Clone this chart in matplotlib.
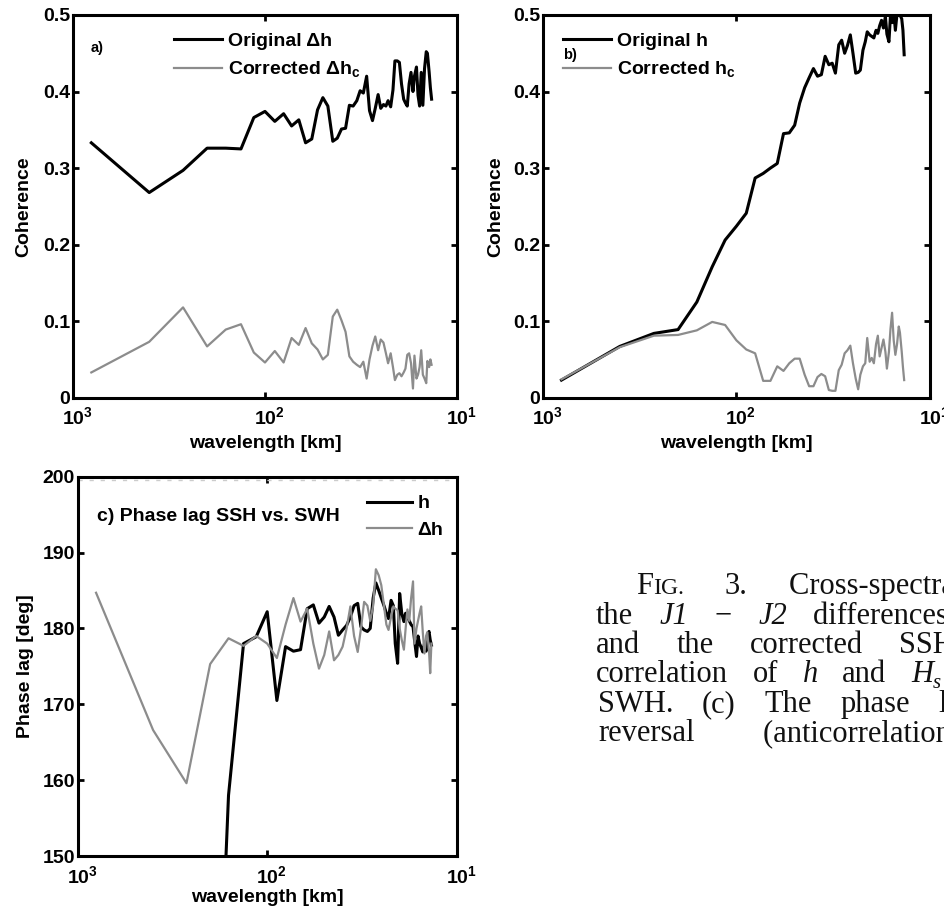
import numpy as np
import matplotlib
matplotlib.use('Agg')
import matplotlib.pyplot as plt
import matplotlib.transforms as mtransforms
from matplotlib.ticker import FixedLocator, FixedFormatter, NullLocator

plt.rcParams['font.family'] = ['Liberation Sans', 'DejaVu Sans']
plt.rcParams['font.weight'] = 'bold'
plt.rcParams['mathtext.fontset'] = 'custom'
plt.rcParams['mathtext.rm'] = 'Liberation Sans:bold'
plt.rcParams['mathtext.bf'] = 'Liberation Sans:bold'

# wavelength of each spectral estimate [km]
wavelength = [800, 400, 266.7, 200, 160, 133.3, 114.3, 100, 88.9, 80,
              72.7, 66.7, 61.5, 57.1, 53.3, 50, 47.1, 44.4, 42.1, 40,
              38.1, 36.4, 34.8, 33.3, 32, 30.8, 29.6, 28.6, 27.6, 26.7,
              25.8, 25, 24.2, 23.5, 22.9, 22.2, 21.6, 21.1, 20.5, 20,
              19.5, 19, 18.6, 18.2, 17.8, 17.4, 17, 16.7, 16.3, 16,
              15.7, 15.4, 15.1, 14.8, 14.5, 14.3, 14, 13.8, 13.6]

# a) coherence of J1-J2 differences with SWH
coh_dh = [.333, .268, .297, .326, .326, .325, .366, .374, .361, .371,
          .355, .363, .333, .338, .376, .392, .381, .335, .339, .351,
          .352, .382, .381, .388, .401, .398, .420, .375, .362, .378,
          .396, .378, .383, .381, .388, .380, .402, .440, .440, .438,
          .410, .390, .385, .381, .410, .425, .400, .420, .432, .395,
          .381, .425, .382, .430, .452, .450, .425, .405, .390]
coh_dh_c = [.033, .073, .118, .067, .089, .096, .059, .046, .061, .046,
            .078, .069, .091, .071, .063, .050, .056, .106, .115, .101,
            .086, .054, .047, .043, .040, .047, .025, .050, .068, .080,
            .062, .076, .072, .058, .045, .058, .040, .023, .030, .032,
            .028, .033, .038, .056, .058, .045, .012, .055, .025, .030,
            .040, .062, .030, .025, .019, .048, .040, .050, .043]

# b) coherence of SSH with SWH
coh_h = [.023, .067, .084, .089, .125, .171, .206, .224, .241, .287,
         .293, .300, .306, .345, .346, .356, .385, .405, .418, .430,
         .420, .422, .446, .435, .437, .424, .461, .467, .450, .460,
         .474, .450, .424, .425, .428, .454, .465, .478, .474, .472,
         .470, .480, .476, .486, .493, .483, .498, .475, .465, .500,
         .490, .505, .480, .502, .510, .500, .495, .480, .448]
coh_h_c = [.024, .066, .081, .082, .088, .099, .095, .075, .063, .058,
           .022, .022, .041, .035, .045, .051, .051, .030, .015, .015,
           .027, .031, .028, .010, .009, .009, .036, .043, .058, .062,
           .068, .045, .025, .011, .030, .041, .045, .078, .047, .052,
           .045, .070, .081, .054, .065, .076, .060, .038, .060, .090,
           .111, .075, .056, .070, .093, .085, .060, .040, .023]

# c) phase lag SSH vs SWH [deg]
phase_h = [np.nan, np.nan, np.nan, 100, 158, 178.0, 178.9, 182.2, 170.5, 177.6,
           177.0, 177.2, 182.6, 183.1, 180.7, 181.5, 182.9, 181.5, 179.1, 179.8,
           180.4, 181.5, 183.0, 183.3, 180.2, 179.8, 179.6, 180.0, 184.0, 186.0,
           185.0, 184.0, 183.0, 182.0, 181.3, 183.7, 183.0, 178.0, 175.4, 184.6,
           182.0, 180.9, 182.0, 181.5, 181.0, 180.5, 180.2, 178.5, 176.3, 179.0,
           178.0, 177.5, 176.9, 178.0, 177.0, 179.0, 179.6, 178.5, 177.8]
phase_dh = [184.7, 166.6, 159.6, 175.3, 178.7, 177.7, 179.0, 178.0, 176.1, 180.5,
            184.0, 180.9, 182.6, 178.0, 174.7, 176.5, 179.6, 175.8, 176.5, 177.6,
            180.0, 182.9, 179.0, 176.9, 180.0, 183.5, 183.0, 181.0, 183.0, 187.8,
            187.0, 185.7, 183.0, 180.5, 179.8, 181.5, 182.9, 182.6, 182.4, 180.0,
            178.5, 177.2, 180.0, 182.5, 181.0, 184.0, 186.2, 178.0, 180.0, 181.0,
            182.0, 182.9, 179.5, 176.7, 179.0, 179.5, 177.0, 174.1, 178.0]

BLACK = 'black'
GRAY = '#8c8c8c'
FS = 14

fig = plt.figure(figsize=(9.44, 9.13), dpi=100)
ax_a = fig.add_axes([0.0770, 0.5644, 0.4074, 0.4192])
ax_b = fig.add_axes([0.5749, 0.5644, 0.4103, 0.4192])
ax_c = fig.add_axes([0.0823, 0.0624, 0.4015, 0.4155])


def style(ax, yticks, ylabels):
    ax.set_xscale('log')
    ax.set_xlim(1000, 10)
    ax.xaxis.set_major_locator(FixedLocator([1000, 100, 10]))
    ax.xaxis.set_major_formatter(FixedFormatter([r'$\mathbf{10^{3}}$',
                                                 r'$\mathbf{10^{2}}$',
                                                 r'$\mathbf{10^{1}}$']))
    ax.xaxis.set_minor_locator(NullLocator())
    ax.set_ylim(yticks[0], yticks[-1])
    ax.set_yticks(yticks)
    ax.set_yticklabels(ylabels)
    ax.tick_params(which='both', direction='in', top=True, right=True,
                   length=4, width=2, labelsize=FS)
    ax.tick_params(axis='y', pad=2)
    ax.tick_params(axis='x', pad=6.3)
    for s in ax.spines.values():
        s.set_linewidth(2.2)
    ax.set_xlabel('wavelength [km]', fontsize=FS, fontweight='bold')


coh_ticks = [0, 0.1, 0.2, 0.3, 0.4, 0.5]
coh_labels = ['0', '0.1', '0.2', '0.3', '0.4', '0.5']

# panel a
ax_a.plot(wavelength, coh_dh, color=BLACK, lw=2.2, label='Original Δh')
ax_a.plot(wavelength, coh_dh_c, color=GRAY, lw=1.6, label=r'Corrected Δh$_{\mathbf{c}}$')
style(ax_a, coh_ticks, coh_labels)
ax_a.set_ylabel('Coherence', fontsize=FS, fontweight='bold')
ax_a.yaxis.set_label_coords(-0.106, 0.5)
ax_a.xaxis.set_label_coords(0.5, -0.097)
ax_a.text(0.047, 0.915, 'a)', transform=ax_a.transAxes, fontsize=10.5,
          fontweight='bold', va='center', ha='left')
ax_a.legend(loc='upper left', bbox_to_anchor=(0.263, 0.955), frameon=False,
            borderpad=0, borderaxespad=0, handlelength=2.5, handletextpad=0.3,
            labelspacing=0.5, fontsize=FS)

# panel b
ax_b.plot(wavelength, coh_h, color=BLACK, lw=2.2, label='Original h')
ax_b.plot(wavelength, coh_h_c, color=GRAY, lw=1.6, label=r'Corrected h$_{\mathbf{c}}$')
style(ax_b, coh_ticks, coh_labels)
ax_b.set_ylabel('Coherence', fontsize=FS, fontweight='bold')
ax_b.yaxis.set_label_coords(-0.100, 0.5)
ax_b.xaxis.set_label_coords(0.5, -0.097)
ax_b.text(0.052, 0.896, 'b)', transform=ax_b.transAxes, fontsize=10.5,
          fontweight='bold', va='center', ha='left')
ax_b.legend(loc='upper left', bbox_to_anchor=(0.052, 0.955), frameon=False,
            borderpad=0, borderaxespad=0, handlelength=2.5, handletextpad=0.3,
            labelspacing=0.5, fontsize=FS)

# panel c
ax_c.axhline(199.6, color='0.8', lw=1.0, ls=(0, (3, 5)))
ax_c.plot(wavelength, phase_h, color=BLACK, lw=2.2, label='h')
ax_c.plot(wavelength, phase_dh, color=GRAY, lw=1.6, label='Δh')
style(ax_c, [150, 160, 170, 180, 190, 200], ['150', '160', '170', '180', '190', '200'])
ax_c.set_ylabel('Phase lag [deg]', fontsize=FS, fontweight='bold')
ax_c.yaxis.set_label_coords(-0.114, 0.5)
ax_c.xaxis.set_label_coords(0.5, -0.087)
ax_c.text(0.050, 0.896, 'c) Phase lag SSH vs. SWH', transform=ax_c.transAxes,
          fontsize=FS, fontweight='bold', va='center', ha='left')
ax_c.legend(loc='upper left', bbox_to_anchor=(0.763, 0.952), frameon=False,
            borderpad=0, borderaxespad=0, handlelength=2.3, handletextpad=0.3,
            labelspacing=0.45, fontsize=FS)

# caption: justified lines, cut off by the right edge as in the page scan
W, H = 944, 913
CAP_FS = 22
cap = dict(family=['Liberation Serif', 'DejaVu Serif'], fontweight='normal',
           fontsize=CAP_FS, va='baseline', ha='left', color='#111111')
it = {'style': 'italic'}
# (baseline px, start px, tokens, visible prefix of last token, x where that prefix ends)
caption_lines = [
    (594, 636, [[('F', {}), ('IG.', {'fontsize': 17})], [('3.', {})],
                [('Cross-spectral analysis', {})]], 'Cross-spectr', 941),
    (623.5, 596, [[('the', {})], [('J1', it)], [('\u2212', {})], [('J2', it)],
                  [('differences of', {})]], 'difference', 936),
    (653, 596, [[('and', {})], [('the', {})], [('corrected', {})],
                [('SSH and', {})]], 'SS', 933),
    (682.5, 596, [[('correlation', {})], [('of', {})], [('h', it)], [('and', {})],
                  [('H', it), ('s', {'style': 'italic', 'fontsize': 15, 'dy': 5})]],
     'H', 933),
    (712, 598, [[('SWH.', {})], [('(c)', {})], [('The', {})], [('phase', {})],
                [('lag', {})]], '', 938),
    (741, 598, [[('reversal', {})], [('(anticorrelation) of', {})]],
     '(anticorrelatio', 936),
]

renderer = fig.canvas.get_renderer()


def text_width(s, extra):
    if not s:
        return 0.0
    kw = dict(cap)
    kw.update({k: v for k, v in extra.items() if k != 'dy'})
    t = fig.text(0, 0, s, **kw)
    w = t.get_window_extent(renderer).width
    t.remove()
    return w


for ybase, x0, tokens, prefix, x_end in caption_lines:
    widths = [sum(text_width(s, e) for s, e in tok) for tok in tokens]
    last_pref = text_width(prefix, tokens[-1][0][1])
    gap = (x_end - x0 - sum(widths[:-1]) - last_pref) / (len(tokens) - 1)
    x = x0
    for tok, w in zip(tokens, widths):
        xp = x
        for s, e in tok:
            kw = dict(cap)
            kw.update(e)
            dy = kw.pop('dy', 0)
            fig.text(xp / W, 1 - (ybase + dy) / H, s, **kw)
            xp += text_width(s, e)
        x += w + gap

# MATLAB-style log labels: the "10" sits centred on the tick, exponent to its right
fig.canvas.draw()
shift = mtransforms.ScaledTranslation(4.5 / 100, 0, fig.dpi_scale_trans)
for ax in (ax_a, ax_b, ax_c):
    for lbl in ax.get_xticklabels():
        lbl.set_transform(lbl.get_transform() + shift)

fig.savefig('out.png', dpi=100)
